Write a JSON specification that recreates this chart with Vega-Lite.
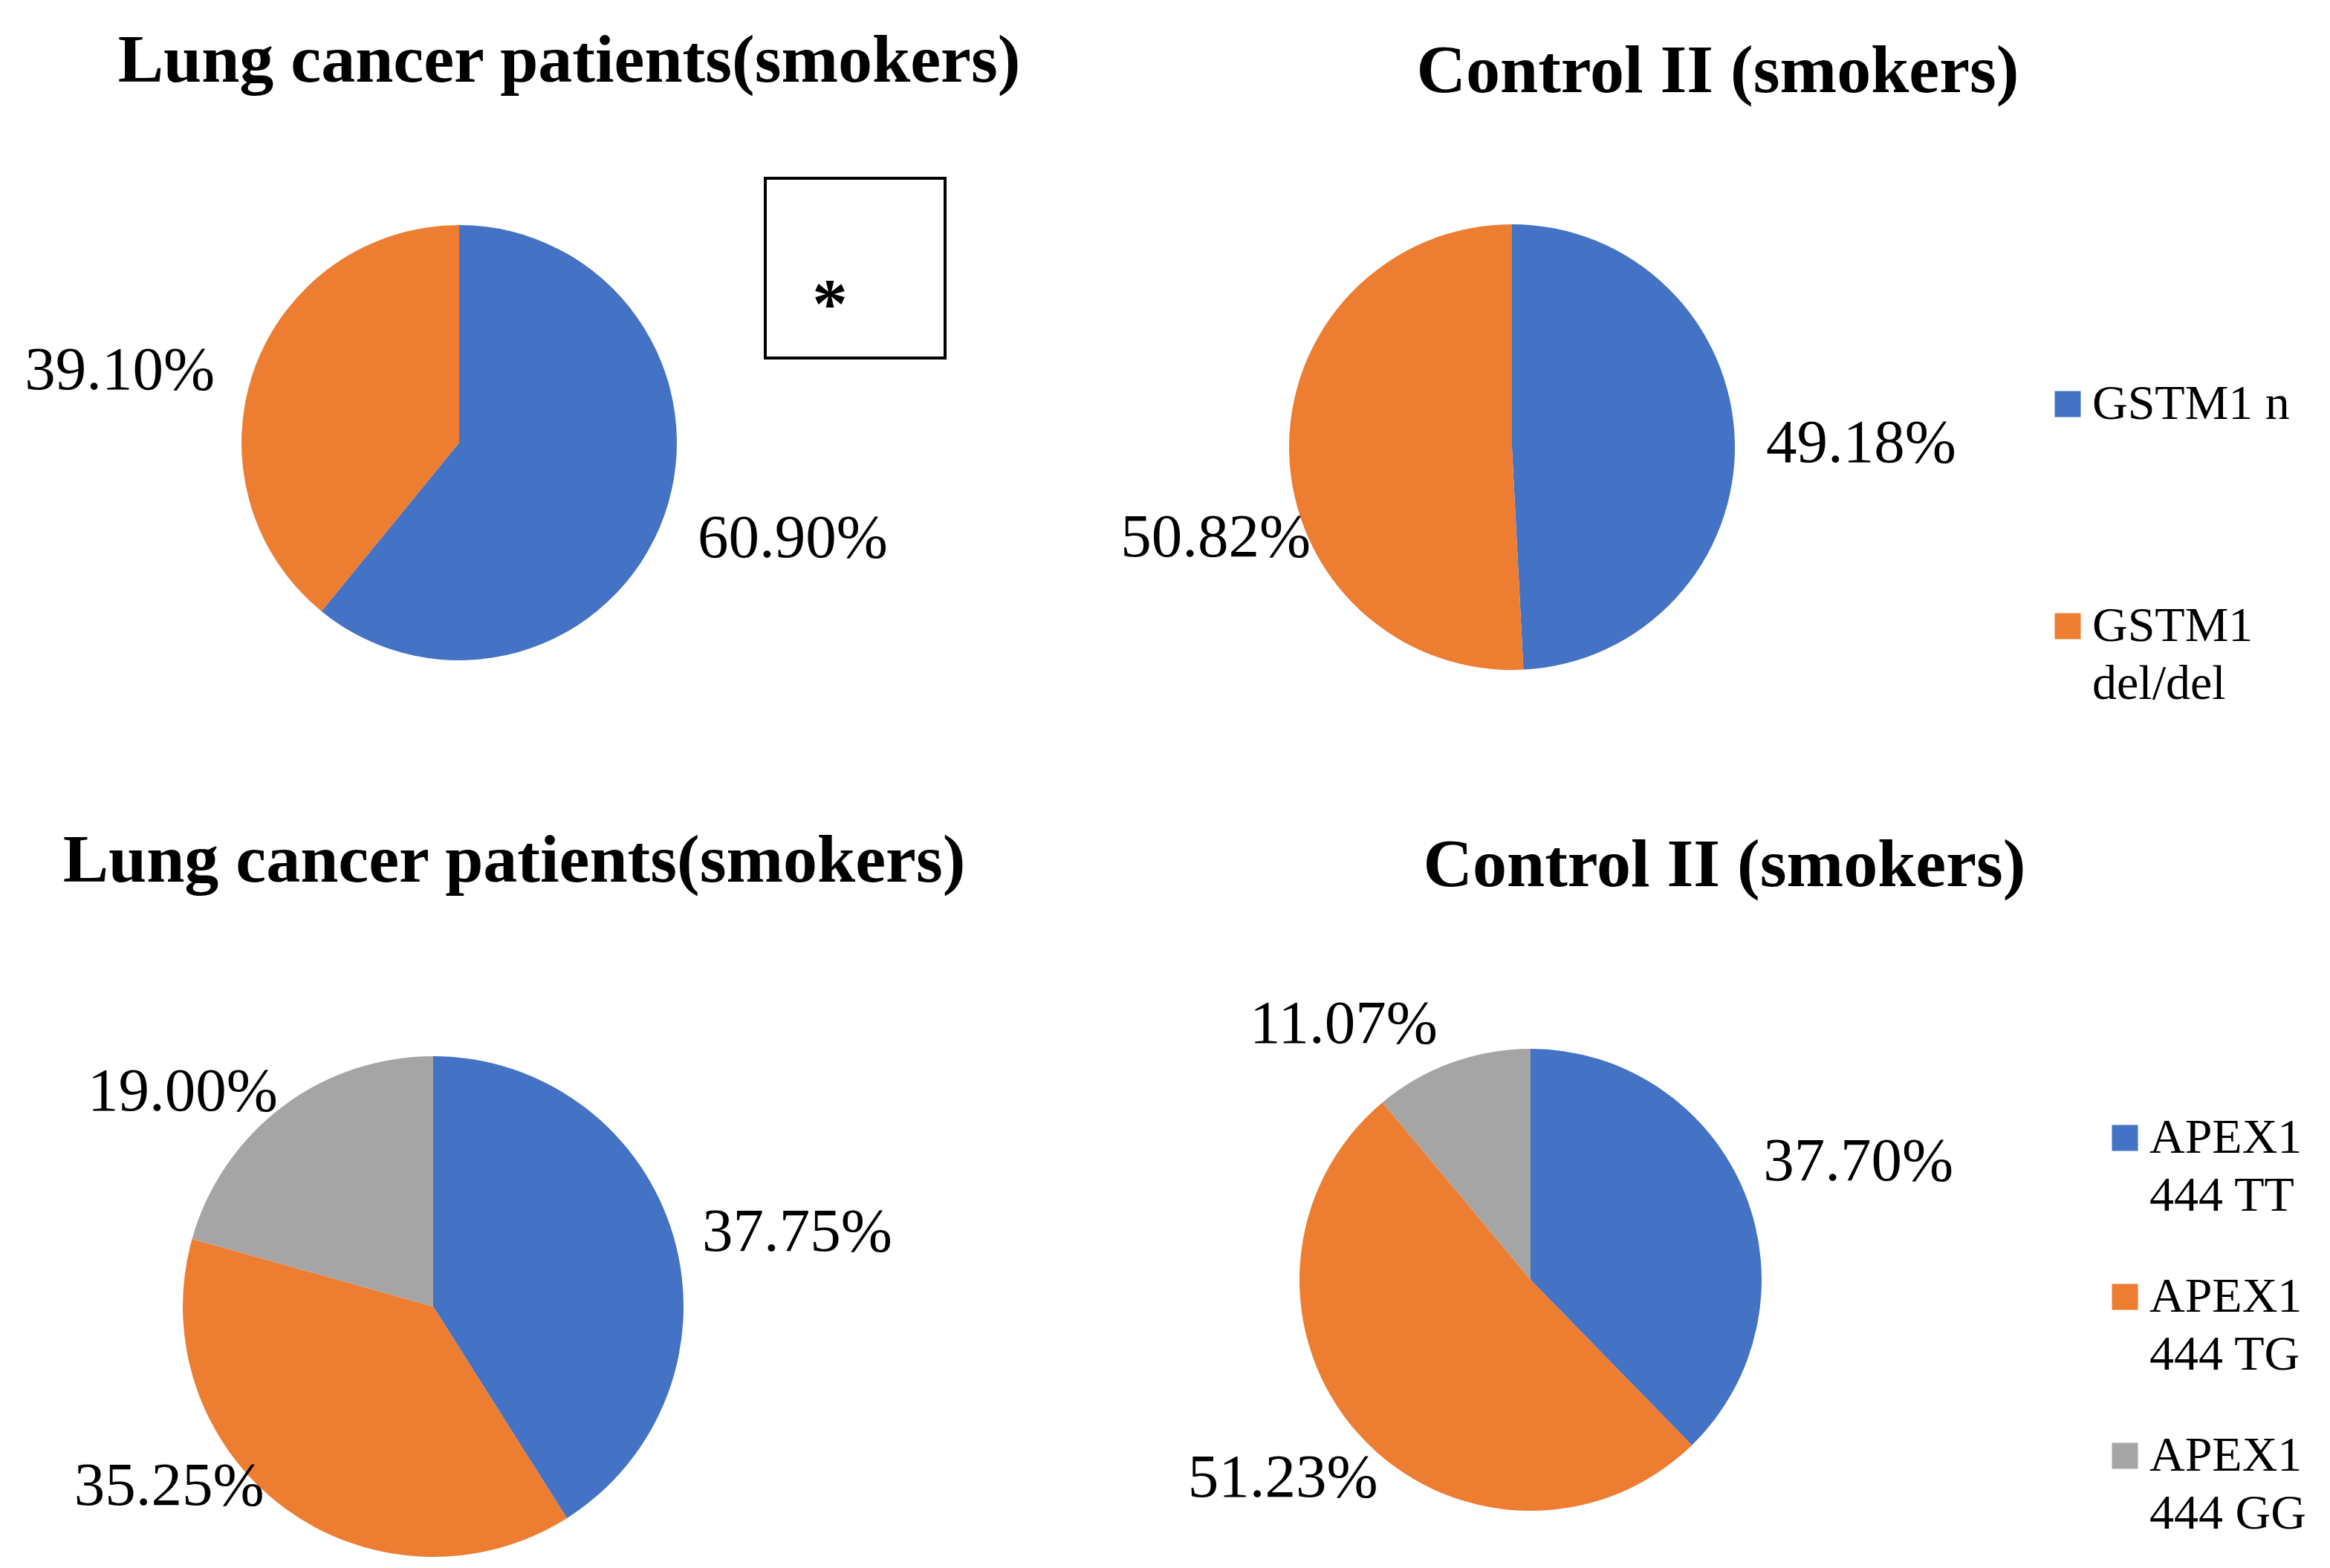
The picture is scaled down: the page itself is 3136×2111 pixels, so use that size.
{
  "$schema": "https://vega.github.io/schema/vega-lite/v6.json",
  "padding": 0,
  "autosize": {"type": "pad"},
  "background": "white",
  "config": {
    "view": {"stroke": null, "fill": null},
    "font": "Liberation Serif",
    "title": {"font": "Liberation Serif", "fontSize": 92, "fontWeight": "bold", "color": "black", "anchor": "middle", "frame": "group", "baseline": "alphabetic"},
    "legend": {"symbolType": "square", "symbolSize": 1225, "symbolStrokeWidth": 0, "labelFont": "Liberation Serif", "labelFontSize": 66, "labelColor": "black", "labelOffset": 0, "labelLimit": 800, "padding": 0, "title": null},
    "text": {"font": "Liberation Serif", "fontSize": 83, "align": "center", "baseline": "middle", "color": "black"}
  },
  "columns": 3,
  "align": "none",
  "bounds": "flush",
  "spacing": {"row": 220, "column": -100},
  "resolve": {"scale": {"color": "independent", "theta": "independent"}, "legend": {"color": "independent"}},
  "concat": [
    {
      "width": 1236,
      "height": 1192,
      "title": {"text": "Lung cancer patients(smokers)", "dx": 148, "offset": -202, "frame": "group", "anchor": "middle", "baseline": "alphabetic"},
      "data": {"values": [
        {"genotype": "GSTM1 n", "value": 0.609},
        {"genotype": "GSTM1 del/del", "value": 0.391}
      ]},
      "encoding": {
        "theta": {"field": "value", "type": "quantitative", "stack": true},
        "order": {"field": "genotype", "sort": "descending"},
        "color": {"field": "genotype", "type": "nominal", "scale": {"domain": ["GSTM1 n", "GSTM1 del/del"], "range": ["#4472C4", "#ED7D31"]}, "legend": null}
      },
      "layer": [
        {"mark": {"type": "arc", "radius": 293}},
        {"mark": {"type": "text", "radius": 467, "thetaOffset": -0.063},
         "encoding": {"color": {"value": "black"},
           "text": {"condition": {"test": "datum.genotype === 'GSTM1 n'", "field": "value", "type": "quantitative", "format": ".2%"}, "value": ""},
           "size": {"condition": {"test": "datum.genotype === 'GSTM1 n'", "value": 83}, "value": 0}}},
        {"mark": {"type": "text", "radius": 467, "thetaOffset": -0.133},
         "encoding": {"color": {"value": "black"},
           "text": {"condition": {"test": "datum.genotype === 'GSTM1 del/del'", "field": "value", "type": "quantitative", "format": ".2%"}, "value": ""},
           "size": {"condition": {"test": "datum.genotype === 'GSTM1 del/del'", "value": 83}, "value": 0}}}
      ]
    },
    {
      "width": 30,
      "height": 722,
      "data": {"values": [{"label": "*"}]},
      "layer": [
        {"mark": {"type": "point", "shape": "square", "size": 58564, "filled": false, "stroke": "black", "strokeWidth": 4, "opacity": 1}},
        {"mark": {"type": "text", "fontSize": 95, "fontWeight": "bold", "baseline": "alphabetic", "dx": -34, "dy": 80},
         "encoding": {"text": {"field": "label"}}}
      ]
    },
    {
      "width": 1938,
      "height": 1204,
      "title": {"text": "Control II (smokers)", "dx": 277, "offset": -216, "frame": "group", "anchor": "middle", "baseline": "alphabetic"},
      "data": {"values": [
        {"genotype": "GSTM1 n", "value": 0.4918},
        {"genotype": "GSTM1 del/del", "value": 0.5082}
      ]},
      "encoding": {
        "theta": {"field": "value", "type": "quantitative", "stack": true},
        "order": {"field": "genotype", "sort": "descending"},
        "color": {"field": "genotype", "type": "nominal", "scale": {"domain": ["GSTM1 n", "GSTM1 del/del"], "range": ["#4472C4", "#ED7D31"]},
          "legend": {"orient": "none", "legendX": 1684, "legendY": 511, "rowPadding": 233,
            "labelExpr": "datum.label == 'GSTM1 n' ? datum.label : [substring(datum.label, 0, 5), substring(datum.label, 6)]",
            "encode": {"labels": {"update": {"lineHeight": {"value": 78}}}}}}
      },
      "layer": [
        {"mark": {"type": "arc", "radius": 300}},
        {"mark": {"type": "text", "radius": 470, "thetaOffset": 0.016},
         "encoding": {"color": {"value": "black"},
           "text": {"condition": {"test": "datum.genotype === 'GSTM1 n'", "field": "value", "type": "quantitative", "format": ".2%"}, "value": ""},
           "size": {"condition": {"test": "datum.genotype === 'GSTM1 n'", "value": 83}, "value": 0}}},
        {"mark": {"type": "text", "radius": 417, "thetaOffset": -0.27},
         "encoding": {"color": {"value": "black"},
           "text": {"condition": {"test": "datum.genotype === 'GSTM1 del/del'", "field": "value", "type": "quantitative", "format": ".2%"}, "value": ""},
           "size": {"condition": {"test": "datum.genotype === 'GSTM1 del/del'", "value": 83}, "value": 0}}}
      ]
    },
    {
      "width": 1166,
      "height": 670,
      "title": {"text": "Lung cancer patients(smokers)", "dx": 109, "offset": 59, "frame": "group", "anchor": "middle", "baseline": "alphabetic"},
      "data": {"values": [
        {"genotype": "APEX1 444 TT", "value": 0.3775},
        {"genotype": "APEX1 444 TG", "value": 0.3525},
        {"genotype": "APEX1 444 GG", "value": 0.19}
      ]},
      "encoding": {
        "theta": {"field": "value", "type": "quantitative", "stack": true},
        "order": {"field": "genotype", "sort": "descending"},
        "color": {"field": "genotype", "type": "nominal", "scale": {"domain": ["APEX1 444 TT", "APEX1 444 TG", "APEX1 444 GG"], "range": ["#4472C4", "#ED7D31", "#A5A5A5"]}, "legend": null}
      },
      "layer": [
        {"mark": {"type": "arc", "radius": 337}},
        {"mark": {"type": "text", "radius": 500, "thetaOffset": 0.08},
         "encoding": {"color": {"value": "black"},
           "text": {"condition": {"test": "datum.genotype === 'APEX1 444 TT'", "field": "value", "type": "quantitative", "format": ".2%"}, "value": ""},
           "size": {"condition": {"test": "datum.genotype === 'APEX1 444 TT'", "value": 83}, "value": 0}}},
        {"mark": {"type": "text", "radius": 430, "thetaOffset": 0.332},
         "encoding": {"color": {"value": "black"},
           "text": {"condition": {"test": "datum.genotype === 'APEX1 444 TG'", "field": "value", "type": "quantitative", "format": ".2%"}, "value": ""},
           "size": {"condition": {"test": "datum.genotype === 'APEX1 444 TG'", "value": 83}, "value": 0}}},
        {"mark": {"type": "text", "radius": 444, "thetaOffset": -0.213, "clip": true},
         "encoding": {"color": {"value": "black"},
           "text": {"condition": {"test": "datum.genotype === 'APEX1 444 GG'", "field": "value", "type": "quantitative", "format": ".2%"}, "value": ""},
           "size": {"condition": {"test": "datum.genotype === 'APEX1 444 GG'", "value": 83}, "value": 0}}}
      ]
    },
    {
      "width": 1,
      "height": 1,
      "data": {"values": [{"label": ""}]},
      "mark": {"type": "text"},
      "encoding": {"text": {"field": "label"}}
    },
    {
      "width": 1988,
      "height": 598,
      "title": {"text": "Control II (smokers)", "dx": 261, "offset": -9, "frame": "group", "anchor": "middle", "baseline": "alphabetic"},
      "data": {"values": [
        {"genotype": "APEX1 444 TT", "value": 0.377},
        {"genotype": "APEX1 444 TG", "value": 0.5123},
        {"genotype": "APEX1 444 GG", "value": 0.1107}
      ]},
      "encoding": {
        "theta": {"field": "value", "type": "quantitative", "stack": true},
        "order": {"field": "genotype", "sort": "descending"},
        "color": {"field": "genotype", "type": "nominal", "scale": {"domain": ["APEX1 444 TT", "APEX1 444 TG", "APEX1 444 GG"], "range": ["#4472C4", "#ED7D31", "#A5A5A5"]},
          "legend": {"orient": "none", "legendX": 1761, "legendY": 75, "rowPadding": 70,
            "labelExpr": "[substring(datum.label, 0, 5), substring(datum.label, 6)]",
            "encode": {"labels": {"update": {"lineHeight": {"value": 78}}}}}}
      },
      "layer": [
        {"mark": {"type": "arc", "radius": 311}},
        {"mark": {"type": "text", "radius": 469, "thetaOffset": 0.04},
         "encoding": {"color": {"value": "black"},
           "text": {"condition": {"test": "datum.genotype === 'APEX1 444 TT'", "field": "value", "type": "quantitative", "format": ".2%"}, "value": ""},
           "size": {"condition": {"test": "datum.genotype === 'APEX1 444 TT'", "value": 83}, "value": 0}}},
        {"mark": {"type": "text", "radius": 427, "thetaOffset": 0.059},
         "encoding": {"color": {"value": "black"},
           "text": {"condition": {"test": "datum.genotype === 'APEX1 444 TG'", "field": "value", "type": "quantitative", "format": ".2%"}, "value": ""},
           "size": {"condition": {"test": "datum.genotype === 'APEX1 444 TG'", "value": 83}, "value": 0}}},
        {"mark": {"type": "text", "radius": 426, "thetaOffset": -0.284},
         "encoding": {"color": {"value": "black"},
           "text": {"condition": {"test": "datum.genotype === 'APEX1 444 GG'", "field": "value", "type": "quantitative", "format": ".2%"}, "value": ""},
           "size": {"condition": {"test": "datum.genotype === 'APEX1 444 GG'", "value": 83}, "value": 0}}}
      ]
    }
  ]
}
